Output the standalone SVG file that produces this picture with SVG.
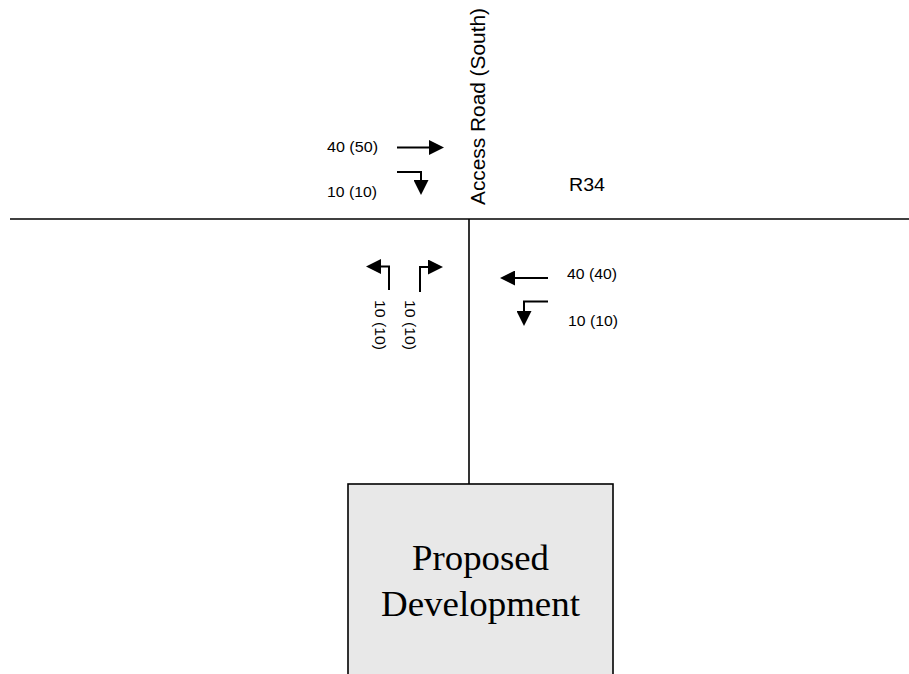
<svg xmlns="http://www.w3.org/2000/svg" width="909" height="674" viewBox="0 0 909 674">
<style>
.road{stroke:#000;stroke-width:1.6;fill:none}
.arr{stroke:#000;stroke-width:2;fill:none;marker-end:url(#ah)}
.lbl{font-family:"Liberation Sans",Arial,sans-serif;font-size:15px;fill:#000}
.big{font-family:"Liberation Serif","Times New Roman",serif;font-size:36px;fill:#000;text-anchor:middle}
</style>
<defs>
<marker id="ah" markerUnits="userSpaceOnUse" markerWidth="15" markerHeight="15" refX="12" refY="7.5" orient="auto">
<path d="M0,0 L15,7.5 L0,15 z" fill="#000"/>
</marker>
</defs>
<rect width="909" height="674" fill="#fff"/>
<g id="roads">
<path class="road" d="M10,219 H909"/>
<path class="road" d="M469,219 V484"/>
</g>
<g id="development">
<rect x="348" y="484" width="265" height="200" fill="#e8e8e8" stroke="#000" stroke-width="1.6"/>
<text class="big" x="480.5" y="570" textLength="137" lengthAdjust="spacingAndGlyphs">Proposed</text>
<text class="big" x="480.5" y="616" textLength="199" lengthAdjust="spacingAndGlyphs">Development</text>
</g>
<g id="connectors">
<path class="arr" d="M397,147.5 H441"/>
<path class="arr" d="M397,172 H421 V192"/>
<path class="arr" d="M548,278 H503"/>
<path class="arr" d="M548,301.5 H524 V323"/>
<path class="arr" d="M389,290 V266.5 H369"/>
<path class="arr" d="M420,292 V267 H440"/>
</g>
<g id="labels">
<text class="lbl" x="327" y="152" textLength="51" lengthAdjust="spacingAndGlyphs">40 (50)</text>
<text class="lbl" x="327" y="197" textLength="50" lengthAdjust="spacingAndGlyphs">10 (10)</text>
<text class="lbl" x="569" y="190.5" style="font-size:18px" textLength="36" lengthAdjust="spacingAndGlyphs">R34</text>
<text class="lbl" x="567" y="279" textLength="50" lengthAdjust="spacingAndGlyphs">40 (40)</text>
<text class="lbl" x="568" y="326" textLength="50" lengthAdjust="spacingAndGlyphs">10 (10)</text>
<text class="lbl" transform="translate(485,205) rotate(-90)" style="font-size:21px" textLength="197" lengthAdjust="spacingAndGlyphs">Access Road (South)</text>
<text class="lbl" transform="translate(375,300) rotate(90)" textLength="50" lengthAdjust="spacingAndGlyphs">10 (10)</text>
<text class="lbl" transform="translate(405,300) rotate(90)" textLength="50" lengthAdjust="spacingAndGlyphs">10 (10)</text>
</g>
</svg>
